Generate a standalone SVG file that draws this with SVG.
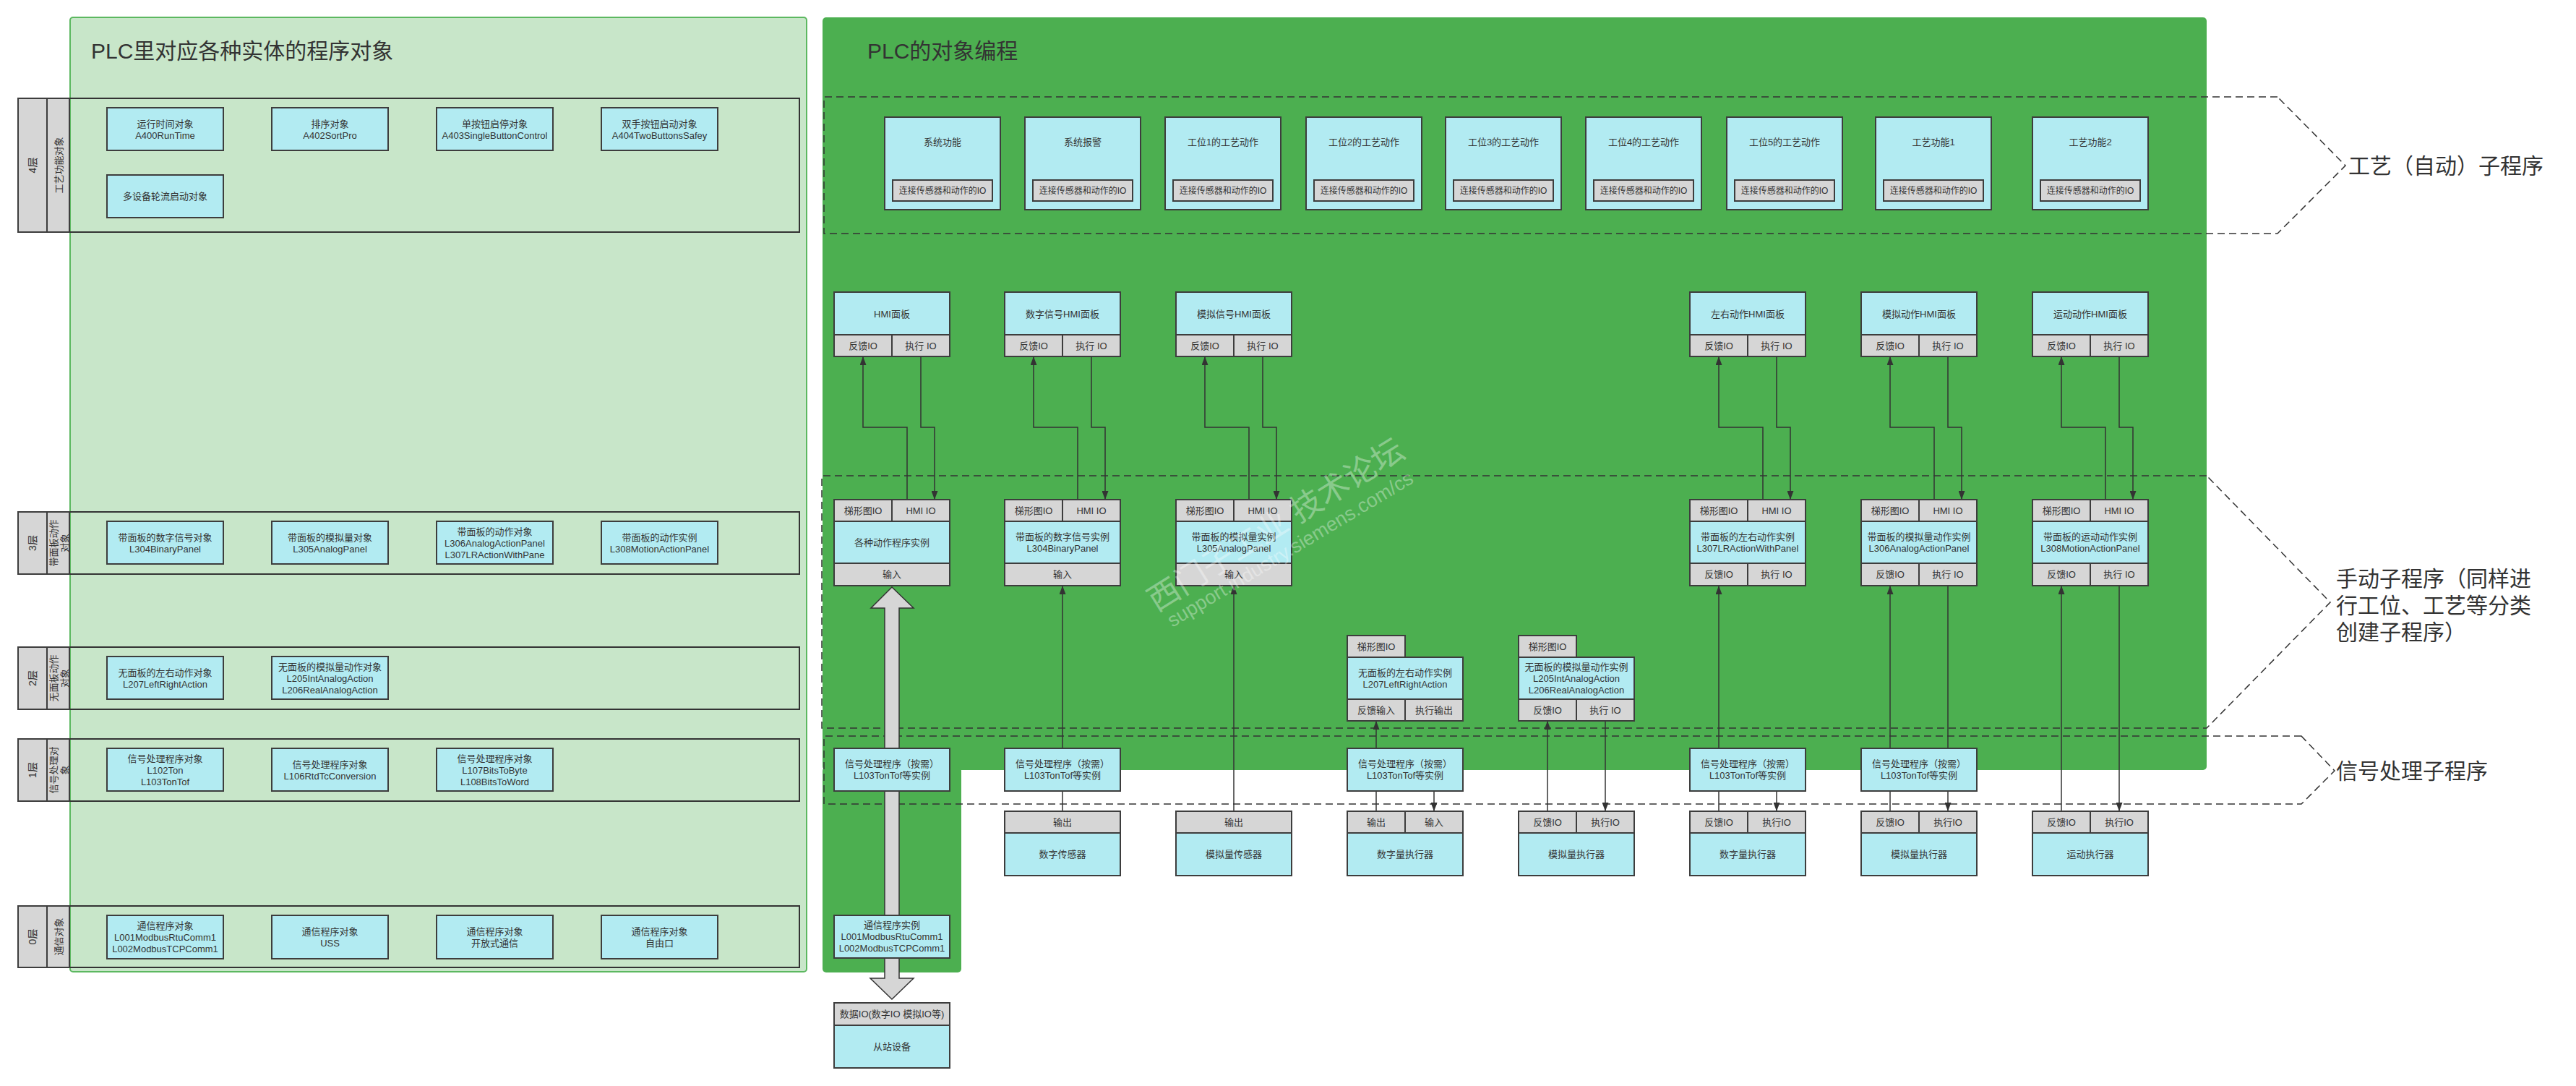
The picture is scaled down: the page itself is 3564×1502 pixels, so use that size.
<svg xmlns="http://www.w3.org/2000/svg" width="3564" height="1502" viewBox="0 0 3564 1502">
<style>
text{font-family:"Liberation Sans","Noto Sans CJK SC",sans-serif;fill:#333;dominant-baseline:central}
.t{font-size:13px;text-anchor:middle}
.s{font-size:12px;text-anchor:middle}
.ti{font-size:30px;dominant-baseline:alphabetic}
.br{font-size:30px;text-anchor:start}
.l1{font-size:14px;text-anchor:middle}
.n{fill:#b2ebf2;stroke:#3d3d3d;stroke-width:2}
.g{fill:#d6d6d6;stroke:#3d3d3d;stroke-width:2}
.lane{fill:none;stroke:#333;stroke-width:2}
.c{fill:none;stroke:#333;stroke-width:1.5}
.d{fill:none;stroke:#333;stroke-width:1.5;stroke-dasharray:10 6}
.ba{fill:#d6d6d6;stroke:#333;stroke-width:1.5}
.wm{fill:#ffffff;fill-opacity:0.35;dominant-baseline:alphabetic}
</style>
<defs>
<marker id="ah" viewBox="0 0 12 9" refX="12" refY="4.5" markerWidth="12" markerHeight="9" markerUnits="userSpaceOnUse" orient="auto"><path d="M0,0L12,4.5L0,9z" fill="#333"/></marker>
</defs>
<rect width="3564" height="1502" fill="#ffffff"/>

<!-- Left panel -->
<g id="leftPanel">
<rect x="97" y="24" width="1019" height="1320" rx="4" fill="#c8e6c9" stroke="#5cb860" stroke-width="2"/>
<text class="ti" x="126" y="81">PLC里对应各种实体的程序对象</text>
</g>

<!-- Lanes -->
<g id="lane4">
<rect class="lane" x="25" y="136" width="1081" height="185"/>
<rect class="g" x="25" y="136" width="40" height="185"/>
<rect class="g" x="65" y="136" width="31" height="185"/>
<text class="l1" transform="translate(45,228.5) rotate(-90)">4层</text>
<text class="t" transform="translate(81,228.5) rotate(-90)">工艺功能对象</text>
</g>
<g id="lane3">
<rect class="lane" x="25" y="708" width="1081" height="86"/>
<rect class="g" x="25" y="708" width="40" height="86"/>
<rect class="g" x="65" y="708" width="31" height="86"/>
<text class="l1" transform="translate(45,751) rotate(-90)">3层</text>
<text class="t" transform="translate(74,751) rotate(-90)">带面板动作</text>
<text class="t" transform="translate(89,751) rotate(-90)">对象</text>
</g>
<g id="lane2">
<rect class="lane" x="25" y="895" width="1081" height="86"/>
<rect class="g" x="25" y="895" width="40" height="86"/>
<rect class="g" x="65" y="895" width="31" height="86"/>
<text class="l1" transform="translate(45,938) rotate(-90)">2层</text>
<text class="t" transform="translate(74,938) rotate(-90)">无面板动作</text>
<text class="t" transform="translate(89,938) rotate(-90)">对象</text>
</g>
<g id="lane1">
<rect class="lane" x="25" y="1022" width="1081" height="86"/>
<rect class="g" x="25" y="1022" width="40" height="86"/>
<rect class="g" x="65" y="1022" width="31" height="86"/>
<text class="l1" transform="translate(45,1065) rotate(-90)">1层</text>
<text class="t" transform="translate(74,1065) rotate(-90)">信号处理对</text>
<text class="t" transform="translate(89,1065) rotate(-90)">象</text>
</g>
<g id="lane0">
<rect class="lane" x="25" y="1253" width="1081" height="85"/>
<rect class="g" x="25" y="1253" width="40" height="85"/>
<rect class="g" x="65" y="1253" width="31" height="85"/>
<text class="l1" transform="translate(45,1295.5) rotate(-90)">0层</text>
<text class="t" transform="translate(81,1295.5) rotate(-90)">通信对象</text>
</g>

<!-- Left nodes -->
<g id="A400"><rect class="n" x="148" y="149" width="161" height="59"/><text class="t" x="228.5" y="171">运行时间对象</text><text class="t" x="228.5" y="187">A400RunTime</text></g>
<g id="A402"><rect class="n" x="376" y="149" width="161" height="59"/><text class="t" x="456.5" y="171">排序对象</text><text class="t" x="456.5" y="187">A402SortPro</text></g>
<g id="A403"><rect class="n" x="604" y="149" width="161" height="59"/><text class="t" x="684.5" y="171">单按钮启停对象</text><text class="t" x="684.5" y="187">A403SingleButtonControl</text></g>
<g id="A404"><rect class="n" x="832" y="149" width="161" height="59"/><text class="t" x="912.5" y="171">双手按钮启动对象</text><text class="t" x="912.5" y="187">A404TwoButtonsSafey</text></g>
<g id="multi"><rect class="n" x="148" y="242" width="161" height="59"/><text class="t" x="228.5" y="271.5">多设备轮流启动对象</text></g>

<g id="L304obj"><rect class="n" x="148" y="721" width="161" height="59"/><text class="t" x="228.5" y="743">带面板的数字信号对象</text><text class="t" x="228.5" y="759">L304BinaryPanel</text></g>
<g id="L305obj"><rect class="n" x="376" y="721" width="161" height="59"/><text class="t" x="456.5" y="743">带面板的模拟量对象</text><text class="t" x="456.5" y="759">L305AnalogPanel</text></g>
<g id="L306obj"><rect class="n" x="604" y="721" width="161" height="59"/><text class="t" x="684.5" y="735">带面板的动作对象</text><text class="t" x="684.5" y="751">L306AnalogActionPanel</text><text class="t" x="684.5" y="767">L307LRActionWithPane</text></g>
<g id="L308obj"><rect class="n" x="832" y="721" width="161" height="59"/><text class="t" x="912.5" y="743">带面板的动作实例</text><text class="t" x="912.5" y="759">L308MotionActionPanel</text></g>

<g id="L207obj"><rect class="n" x="148" y="908" width="161" height="59"/><text class="t" x="228.5" y="930">无面板的左右动作对象</text><text class="t" x="228.5" y="946">L207LeftRightAction</text></g>
<g id="L205obj"><rect class="n" x="376" y="908" width="161" height="59"/><text class="t" x="456.5" y="922">无面板的模拟量动作对象</text><text class="t" x="456.5" y="938">L205IntAnalogAction</text><text class="t" x="456.5" y="954">L206RealAnalogAction</text></g>

<g id="L102obj"><rect class="n" x="148" y="1035" width="161" height="59"/><text class="t" x="228.5" y="1049">信号处理程序对象</text><text class="t" x="228.5" y="1065">L102Ton</text><text class="t" x="228.5" y="1081">L103TonTof</text></g>
<g id="L106obj"><rect class="n" x="376" y="1035" width="161" height="59"/><text class="t" x="456.5" y="1057">信号处理程序对象</text><text class="t" x="456.5" y="1073">L106RtdTcConversion</text></g>
<g id="L107obj"><rect class="n" x="604" y="1035" width="161" height="59"/><text class="t" x="684.5" y="1049">信号处理程序对象</text><text class="t" x="684.5" y="1065">L107BitsToByte</text><text class="t" x="684.5" y="1081">L108BitsToWord</text></g>

<g id="L001obj"><rect class="n" x="148" y="1266" width="161" height="60"/><text class="t" x="228.5" y="1280">通信程序对象</text><text class="t" x="228.5" y="1296">L001ModbusRtuComm1</text><text class="t" x="228.5" y="1312">L002ModbusTCPComm1</text></g>
<g id="USSobj"><rect class="n" x="376" y="1266" width="161" height="60"/><text class="t" x="456.5" y="1288">通信程序对象</text><text class="t" x="456.5" y="1304">USS</text></g>
<g id="OUCobj"><rect class="n" x="604" y="1266" width="161" height="60"/><text class="t" x="684.5" y="1288">通信程序对象</text><text class="t" x="684.5" y="1304">开放式通信</text></g>
<g id="FPobj"><rect class="n" x="832" y="1266" width="161" height="60"/><text class="t" x="912.5" y="1288">通信程序对象</text><text class="t" x="912.5" y="1304">自由口</text></g>

<!-- Right panel -->
<g id="rightPanel">
<rect x="1138" y="24" width="1915" height="1041" rx="5" fill="#4caf50"/>
<rect x="1138" y="1061" width="192" height="284" rx="5" fill="#4caf50"/>
<text class="ti" x="1200" y="81">PLC的对象编程</text>
</g>

<!-- Dashed regions with brackets -->
<g id="regions">
<path class="d" d="M3151,134 H1140 V323 H3151 L3245,229 Z"/>
<path class="d" d="M3053,658 H1137 V1007 H3053 L3224,833 Z"/>
<path class="d" d="M3184,1018 H1140 V1112 H3184 L3230,1066 Z"/>
<text class="br" x="3249" y="229">工艺（自动）子程序</text>
<text class="br" x="3232" y="800">手动子程序（同样进</text>
<text class="br" x="3232" y="837">行工位、工艺等分类</text>
<text class="br" x="3232" y="874">创建子程序）</text>
<text class="br" x="3232" y="1066">信号处理子程序</text>
</g>

<!-- Connectors -->
<g id="connectors">
<polygon class="ba" points="1224,1266 1224,841 1205,841 1234,812 1264,841 1244,841 1244,1266"/>
<polygon class="ba" points="1224,1325 1224,1353 1204,1353 1234,1382 1264,1353 1244,1353 1244,1325"/>

<path class="c" d="M1255,691 V591 H1194 V493" marker-end="url(#ah)"/>
<path class="c" d="M1274,493 V591 H1293 V691" marker-end="url(#ah)"/>
<path class="c" d="M1491,691 V591 H1430 V493" marker-end="url(#ah)"/>
<path class="c" d="M1510,493 V591 H1529 V691" marker-end="url(#ah)"/>
<path class="c" d="M1728,691 V591 H1667 V493" marker-end="url(#ah)"/>
<path class="c" d="M1747,493 V591 H1766 V691" marker-end="url(#ah)"/>
<path class="c" d="M2439,691 V591 H2378 V493" marker-end="url(#ah)"/>
<path class="c" d="M2458,493 V591 H2477 V691" marker-end="url(#ah)"/>
<path class="c" d="M2676,691 V591 H2615 V493" marker-end="url(#ah)"/>
<path class="c" d="M2695,493 V591 H2714 V691" marker-end="url(#ah)"/>
<path class="c" d="M2913,691 V591 H2852 V493" marker-end="url(#ah)"/>
<path class="c" d="M2932,493 V591 H2951 V691" marker-end="url(#ah)"/>

<path class="c" d="M1470,1035 V810" marker-end="url(#ah)"/>
<path class="c" d="M1470,1122 V1094"/>
<path class="c" d="M1707,1122 V810" marker-end="url(#ah)"/>
<path class="c" d="M1904,1035 V997" marker-end="url(#ah)"/>
<path class="c" d="M1904,1122 V1094"/>
<path class="c" d="M1984,1094 V1122" marker-end="url(#ah)"/>
<path class="c" d="M2141,1122 V997" marker-end="url(#ah)"/>
<path class="c" d="M2221,997 V1122" marker-end="url(#ah)"/>
<path class="c" d="M2378,1035 V810" marker-end="url(#ah)"/>
<path class="c" d="M2378,1122 V1094"/>
<path class="c" d="M2458,1094 V1122" marker-end="url(#ah)"/>
<path class="c" d="M2615,1035 V810" marker-end="url(#ah)"/>
<path class="c" d="M2695,810 V1035"/>
<path class="c" d="M2615,1122 V1094"/>
<path class="c" d="M2695,1094 V1122" marker-end="url(#ah)"/>
<path class="c" d="M2852,1122 V810" marker-end="url(#ah)"/>
<path class="c" d="M2932,810 V1122" marker-end="url(#ah)"/>
</g>

<!-- Process blocks -->
<g id="p1"><rect class="n" x="1224" y="162" width="160" height="128"/><text class="t" x="1304" y="196">系统功能</text><rect class="g" x="1235" y="249" width="138" height="29"/><text class="s" x="1304" y="263.5">连接传感器和动作的IO</text></g>
<g id="p2"><rect class="n" x="1418" y="162" width="160" height="128"/><text class="t" x="1498" y="196">系统报警</text><rect class="g" x="1429" y="249" width="138" height="29"/><text class="s" x="1498" y="263.5">连接传感器和动作的IO</text></g>
<g id="p3"><rect class="n" x="1612" y="162" width="160" height="128"/><text class="t" x="1692" y="196">工位1的工艺动作</text><rect class="g" x="1623" y="249" width="138" height="29"/><text class="s" x="1692" y="263.5">连接传感器和动作的IO</text></g>
<g id="p4"><rect class="n" x="1807" y="162" width="160" height="128"/><text class="t" x="1887" y="196">工位2的工艺动作</text><rect class="g" x="1818" y="249" width="138" height="29"/><text class="s" x="1887" y="263.5">连接传感器和动作的IO</text></g>
<g id="p5"><rect class="n" x="2000" y="162" width="160" height="128"/><text class="t" x="2080" y="196">工位3的工艺动作</text><rect class="g" x="2011" y="249" width="138" height="29"/><text class="s" x="2080" y="263.5">连接传感器和动作的IO</text></g>
<g id="p6"><rect class="n" x="2194" y="162" width="160" height="128"/><text class="t" x="2274" y="196">工位4的工艺动作</text><rect class="g" x="2205" y="249" width="138" height="29"/><text class="s" x="2274" y="263.5">连接传感器和动作的IO</text></g>
<g id="p7"><rect class="n" x="2389" y="162" width="160" height="128"/><text class="t" x="2469" y="196">工位5的工艺动作</text><rect class="g" x="2400" y="249" width="138" height="29"/><text class="s" x="2469" y="263.5">连接传感器和动作的IO</text></g>
<g id="p8"><rect class="n" x="2595" y="162" width="160" height="128"/><text class="t" x="2675" y="196">工艺功能1</text><rect class="g" x="2606" y="249" width="138" height="29"/><text class="s" x="2675" y="263.5">连接传感器和动作的IO</text></g>
<g id="p9"><rect class="n" x="2812" y="162" width="160" height="128"/><text class="t" x="2892" y="196">工艺功能2</text><rect class="g" x="2823" y="249" width="138" height="29"/><text class="s" x="2892" y="263.5">连接传感器和动作的IO</text></g>

<!-- HMI panels -->
<g id="hmi1"><rect class="n" x="1154" y="404" width="160" height="59"/><rect class="g" x="1154" y="463" width="80" height="30"/><rect class="g" x="1234" y="463" width="80" height="30"/><text class="t" x="1234" y="434">HMI面板</text><text class="t" x="1194" y="478">反馈IO</text><text class="t" x="1274" y="478">执行 IO</text></g>
<g id="hmi2"><rect class="n" x="1390" y="404" width="160" height="59"/><rect class="g" x="1390" y="463" width="80" height="30"/><rect class="g" x="1470" y="463" width="80" height="30"/><text class="t" x="1470" y="434">数字信号HMI面板</text><text class="t" x="1430" y="478">反馈IO</text><text class="t" x="1510" y="478">执行 IO</text></g>
<g id="hmi3"><rect class="n" x="1627" y="404" width="160" height="59"/><rect class="g" x="1627" y="463" width="80" height="30"/><rect class="g" x="1707" y="463" width="80" height="30"/><text class="t" x="1707" y="434">模拟信号HMI面板</text><text class="t" x="1667" y="478">反馈IO</text><text class="t" x="1747" y="478">执行 IO</text></g>
<g id="hmi4"><rect class="n" x="2338" y="404" width="160" height="59"/><rect class="g" x="2338" y="463" width="80" height="30"/><rect class="g" x="2418" y="463" width="80" height="30"/><text class="t" x="2418" y="434">左右动作HMI面板</text><text class="t" x="2378" y="478">反馈IO</text><text class="t" x="2458" y="478">执行 IO</text></g>
<g id="hmi5"><rect class="n" x="2575" y="404" width="160" height="59"/><rect class="g" x="2575" y="463" width="80" height="30"/><rect class="g" x="2655" y="463" width="80" height="30"/><text class="t" x="2655" y="434">模拟动作HMI面板</text><text class="t" x="2615" y="478">反馈IO</text><text class="t" x="2695" y="478">执行 IO</text></g>
<g id="hmi6"><rect class="n" x="2812" y="404" width="160" height="59"/><rect class="g" x="2812" y="463" width="80" height="30"/><rect class="g" x="2892" y="463" width="80" height="30"/><text class="t" x="2892" y="434">运动动作HMI面板</text><text class="t" x="2852" y="478">反馈IO</text><text class="t" x="2932" y="478">执行 IO</text></g>

<!-- Instances with panel -->
<g id="inst1"><rect class="g" x="1154" y="691" width="80" height="30"/><rect class="g" x="1234" y="691" width="80" height="30"/><rect class="n" x="1154" y="721" width="160" height="58"/><rect class="g" x="1154" y="779" width="160" height="31"/><text class="t" x="1194" y="706">梯形图IO</text><text class="t" x="1274" y="706">HMI IO</text><text class="t" x="1234" y="750">各种动作程序实例</text><text class="t" x="1234" y="794.5">输入</text></g>
<g id="inst2"><rect class="g" x="1390" y="691" width="80" height="30"/><rect class="g" x="1470" y="691" width="80" height="30"/><rect class="n" x="1390" y="721" width="160" height="58"/><rect class="g" x="1390" y="779" width="160" height="31"/><text class="t" x="1430" y="706">梯形图IO</text><text class="t" x="1510" y="706">HMI IO</text><text class="t" x="1470" y="742">带面板的数字信号实例</text><text class="t" x="1470" y="758">L304BinaryPanel</text><text class="t" x="1470" y="794.5">输入</text></g>
<g id="inst3"><rect class="g" x="1627" y="691" width="80" height="30"/><rect class="g" x="1707" y="691" width="80" height="30"/><rect class="n" x="1627" y="721" width="160" height="58"/><rect class="g" x="1627" y="779" width="160" height="31"/><text class="t" x="1667" y="706">梯形图IO</text><text class="t" x="1747" y="706">HMI IO</text><text class="t" x="1707" y="742">带面板的模拟量实例</text><text class="t" x="1707" y="758">L305AnalogPanel</text><text class="t" x="1707" y="794.5">输入</text></g>
<g id="inst4"><rect class="g" x="2338" y="691" width="80" height="30"/><rect class="g" x="2418" y="691" width="80" height="30"/><rect class="n" x="2338" y="721" width="160" height="58"/><rect class="g" x="2338" y="779" width="80" height="31"/><rect class="g" x="2418" y="779" width="80" height="31"/><text class="t" x="2378" y="706">梯形图IO</text><text class="t" x="2458" y="706">HMI IO</text><text class="t" x="2418" y="742">带面板的左右动作实例</text><text class="t" x="2418" y="758">L307LRActionWithPanel</text><text class="t" x="2378" y="794.5">反馈IO</text><text class="t" x="2458" y="794.5">执行 IO</text></g>
<g id="inst5"><rect class="g" x="2575" y="691" width="80" height="30"/><rect class="g" x="2655" y="691" width="80" height="30"/><rect class="n" x="2575" y="721" width="160" height="58"/><rect class="g" x="2575" y="779" width="80" height="31"/><rect class="g" x="2655" y="779" width="80" height="31"/><text class="t" x="2615" y="706">梯形图IO</text><text class="t" x="2695" y="706">HMI IO</text><text class="t" x="2655" y="742">带面板的模拟量动作实例</text><text class="t" x="2655" y="758">L306AnalogActionPanel</text><text class="t" x="2615" y="794.5">反馈IO</text><text class="t" x="2695" y="794.5">执行 IO</text></g>
<g id="inst6"><rect class="g" x="2812" y="691" width="80" height="30"/><rect class="g" x="2892" y="691" width="80" height="30"/><rect class="n" x="2812" y="721" width="160" height="58"/><rect class="g" x="2812" y="779" width="80" height="31"/><rect class="g" x="2892" y="779" width="80" height="31"/><text class="t" x="2852" y="706">梯形图IO</text><text class="t" x="2932" y="706">HMI IO</text><text class="t" x="2892" y="742">带面板的运动动作实例</text><text class="t" x="2892" y="758">L308MotionActionPanel</text><text class="t" x="2852" y="794.5">反馈IO</text><text class="t" x="2932" y="794.5">执行 IO</text></g>

<!-- Instances without panel -->
<g id="L207inst"><rect class="g" x="1864" y="879" width="80" height="30"/><rect class="n" x="1864" y="909" width="160" height="58"/><rect class="g" x="1864" y="967" width="80" height="30"/><rect class="g" x="1944" y="967" width="80" height="30"/><text class="t" x="1904" y="894">梯形图IO</text><text class="t" x="1944" y="930">无面板的左右动作实例</text><text class="t" x="1944" y="946">L207LeftRightAction</text><text class="t" x="1904" y="982">反馈输入</text><text class="t" x="1984" y="982">执行输出</text></g>
<g id="L205inst"><rect class="g" x="2101" y="879" width="80" height="30"/><rect class="n" x="2101" y="909" width="160" height="58"/><rect class="g" x="2101" y="967" width="80" height="30"/><rect class="g" x="2181" y="967" width="80" height="30"/><text class="t" x="2141" y="894">梯形图IO</text><text class="t" x="2181" y="922">无面板的模拟量动作实例</text><text class="t" x="2181" y="938">L205IntAnalogAction</text><text class="t" x="2181" y="954">L206RealAnalogAction</text><text class="t" x="2141" y="982">反馈IO</text><text class="t" x="2221" y="982">执行 IO</text></g>

<!-- Signal processing instances -->
<g id="sig1"><rect class="n" x="1154" y="1035" width="160" height="59"/><text class="t" x="1234" y="1056.5">信号处理程序（按需）</text><text class="t" x="1234" y="1072.5">L103TonTof等实例</text></g>
<g id="sig2"><rect class="n" x="1390" y="1035" width="160" height="59"/><text class="t" x="1470" y="1056.5">信号处理程序（按需）</text><text class="t" x="1470" y="1072.5">L103TonTof等实例</text></g>
<g id="sig3"><rect class="n" x="1864" y="1035" width="160" height="59"/><text class="t" x="1944" y="1056.5">信号处理程序（按需）</text><text class="t" x="1944" y="1072.5">L103TonTof等实例</text></g>
<g id="sig4"><rect class="n" x="2338" y="1035" width="160" height="59"/><text class="t" x="2418" y="1056.5">信号处理程序（按需）</text><text class="t" x="2418" y="1072.5">L103TonTof等实例</text></g>
<g id="sig5"><rect class="n" x="2575" y="1035" width="160" height="59"/><text class="t" x="2655" y="1056.5">信号处理程序（按需）</text><text class="t" x="2655" y="1072.5">L103TonTof等实例</text></g>

<!-- Devices -->
<g id="dev1"><rect class="g" x="1390" y="1122" width="160" height="30"/><rect class="n" x="1390" y="1152" width="160" height="59"/><text class="t" x="1470" y="1137">输出</text><text class="t" x="1470" y="1181.5">数字传感器</text></g>
<g id="dev2"><rect class="g" x="1627" y="1122" width="160" height="30"/><rect class="n" x="1627" y="1152" width="160" height="59"/><text class="t" x="1707" y="1137">输出</text><text class="t" x="1707" y="1181.5">模拟量传感器</text></g>
<g id="dev3"><rect class="g" x="1864" y="1122" width="80" height="30"/><rect class="g" x="1944" y="1122" width="80" height="30"/><rect class="n" x="1864" y="1152" width="160" height="59"/><text class="t" x="1904" y="1137">输出</text><text class="t" x="1984" y="1137">输入</text><text class="t" x="1944" y="1181.5">数字量执行器</text></g>
<g id="dev4"><rect class="g" x="2101" y="1122" width="80" height="30"/><rect class="g" x="2181" y="1122" width="80" height="30"/><rect class="n" x="2101" y="1152" width="160" height="59"/><text class="t" x="2141" y="1137">反馈IO</text><text class="t" x="2221" y="1137">执行IO</text><text class="t" x="2181" y="1181.5">模拟量执行器</text></g>
<g id="dev5"><rect class="g" x="2338" y="1122" width="80" height="30"/><rect class="g" x="2418" y="1122" width="80" height="30"/><rect class="n" x="2338" y="1152" width="160" height="59"/><text class="t" x="2378" y="1137">反馈IO</text><text class="t" x="2458" y="1137">执行IO</text><text class="t" x="2418" y="1181.5">数字量执行器</text></g>
<g id="dev6"><rect class="g" x="2575" y="1122" width="80" height="30"/><rect class="g" x="2655" y="1122" width="80" height="30"/><rect class="n" x="2575" y="1152" width="160" height="59"/><text class="t" x="2615" y="1137">反馈IO</text><text class="t" x="2695" y="1137">执行IO</text><text class="t" x="2655" y="1181.5">模拟量执行器</text></g>
<g id="dev7"><rect class="g" x="2812" y="1122" width="80" height="30"/><rect class="g" x="2892" y="1122" width="80" height="30"/><rect class="n" x="2812" y="1152" width="160" height="59"/><text class="t" x="2852" y="1137">反馈IO</text><text class="t" x="2932" y="1137">执行IO</text><text class="t" x="2892" y="1181.5">运动执行器</text></g>

<!-- Communication -->
<g id="comm"><rect class="n" x="1154" y="1266" width="160" height="59"/><text class="t" x="1234" y="1279.5">通信程序实例</text><text class="t" x="1234" y="1295.5">L001ModbusRtuComm1</text><text class="t" x="1234" y="1311.5">L002ModbusTCPComm1</text></g>
<g id="slave"><rect class="g" x="1154" y="1387" width="160" height="31"/><rect class="n" x="1154" y="1418" width="160" height="59"/><text class="t" x="1234" y="1402.5">数据IO(数字IO 模拟IO等)</text><text class="t" x="1234" y="1447.5">从站设备</text></g>

<!-- Watermark -->
<g id="watermark">
<text class="wm" font-size="44" transform="translate(1600,847) rotate(-32)">西门子工业 技术论坛</text>
<text class="wm" font-size="27" transform="translate(1622,868) rotate(-31)">support.industry.siemens.com/cs</text>
</g>
</svg>
